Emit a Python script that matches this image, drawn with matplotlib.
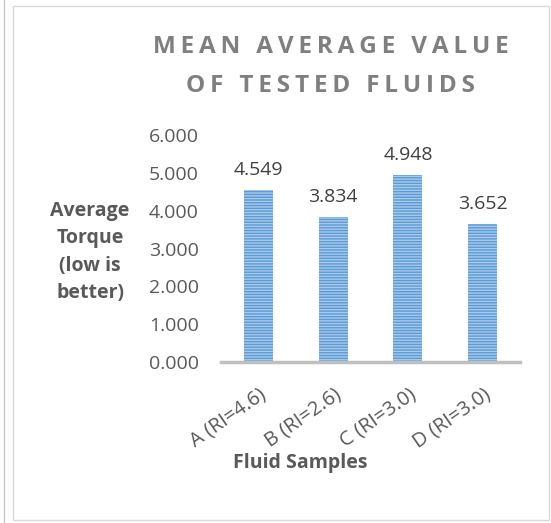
import matplotlib.pyplot as plt
import numpy as np

samples = ["A (RI=4.6)", "B (RI=2.6)", "C (RI=3.0)", "D (RI=3.0)"]
torque = [4.549, 3.834, 4.948, 3.652]
yticks = [0, 1, 2, 3, 4, 5, 6]

W, H = 551, 523
plt.rcParams['font.family'] = ['Open Sans', 'DejaVu Sans']
plt.rcParams['hatch.linewidth'] = 1.0

fig = plt.figure(figsize=(W / 100, H / 100), dpi=100)
ax = fig.add_axes([221 / W, 1 - 362 / H, 299 / W, 227 / H])

x = np.arange(len(samples))
ax.bar(x, torque, width=0.39, color='#5B9BD5', edgecolor='#A9C9EA',
       linewidth=0, hatch='------', zorder=2)
for xi, v in zip(x, torque):
    ax.text(xi, v + 0.28, f"{v:.3f}", ha='center', va='bottom',
            fontsize=14, color='#404040')

ax.set_xlim(-0.5, len(samples) - 0.5)
ax.set_ylim(0, 6)
ax.set_yticks(yticks)
ax.set_yticklabels([f"{t:.3f}" for t in yticks], fontsize=14, color='#595959')
ax.set_xticks(x)
ax.set_xticklabels(samples, rotation=35, ha='right', rotation_mode='anchor',
                   fontsize=14.5, color='#595959')
ax.tick_params(length=0)
ax.tick_params(axis='y', pad=16)
ax.tick_params(axis='x', pad=16)
for s in ['top', 'right', 'left']:
    ax.spines[s].set_visible(False)
ax.spines['bottom'].set_color('#BFBFBF')
ax.spines['bottom'].set_linewidth(2.5)
ax.spines['bottom'].set_zorder(3)

# title with wide letter spacing
title_lines = ["MEAN AVERAGE VALUE", "OF TESTED FLUIDS"]
for i, line in enumerate(title_lines):
    spaced = "\u2009".join(line)
    fig.text(331 / W, 1 - (47 + 39 * i) / H, spaced, ha='center', va='center',
             fontsize=17.5, fontweight='bold', color='#7F7F7F',
             family=['Open Sans', 'DejaVu Sans'])

fig.text(90 / W, 1 - 252 / H, "Average\nTorque\n(low is\nbetter)",
         ha='center', va='center', fontsize=14, fontweight='bold',
         color='#595959', linespacing=1.5)
fig.text(300 / W, 1 - 463 / H, "Fluid Samples", ha='center', va='center',
         fontsize=14, fontweight='bold', color='#595959')

# chart border
fig.patches.append(plt.Rectangle((13 / W, 3 / H), 536 / W, 514 / H,
                                 transform=fig.transFigure, fill=False,
                                 edgecolor='#D9D9D9', linewidth=1))
fig.lines.append(plt.Line2D([4 / W, 4 / W], [0, 1], transform=fig.transFigure,
                            color='#C8C8C8', linewidth=1))

fig.savefig("out.png", dpi=100)
